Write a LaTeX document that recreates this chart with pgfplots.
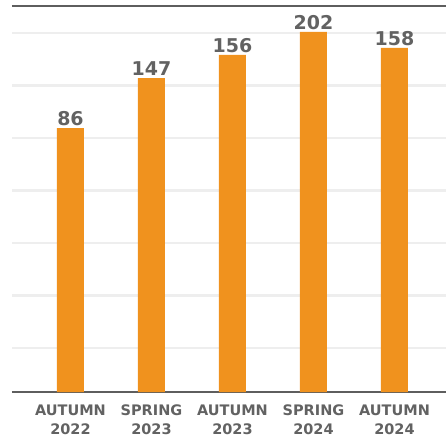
\documentclass[border=0pt]{standalone}
\usepackage{pgfplots}
\pgfplotsset{compat=1.18}
\usepackage{fontspec}
\setmainfont{DejaVu Sans}
\definecolor{barorange}{HTML}{F0921E}
\definecolor{txtgray}{HTML}{626262}
\definecolor{gridgray}{HTML}{EEEEEE}
\definecolor{axgray}{HTML}{5E5E5E}
\begin{document}
\begin{tikzpicture}[x=1pt,y=1pt]
\path[use as bounding box] (-12,-45) rectangle (434,392);
\begin{axis}[
  at={(0,0)}, anchor=south west,
  scale only axis, width=434pt, height=386pt,
  xmin=-0.722, xmax=4.636, ymin=0, ymax=386,
  axis x line*=bottom,
  axis y line*=left,
  y axis line style={draw=none},
  x axis line style={axgray, line width=2pt},
  xtick={0,1,2,3,4},
  xticklabels={AUTUMN\\2022,SPRING\\2023,AUTUMN\\2023,SPRING\\2024,AUTUMN\\2024},
  xticklabel style={align=center, font=\fontsize{14.5}{19}\selectfont\bfseries, text=txtgray, yshift=-9pt},
  major tick length=0pt,
  ytick={44,96.5,149,201.5,254,306.5,359},
  yticklabels={},
  ymajorgrids,
  grid style={gridgray, line width=2.5pt},
  clip=false,
]
\addplot[ybar, bar width=27pt, fill=barorange, draw=none,
  point meta=explicit symbolic,
  nodes near coords,
  nodes near coords style={font=\fontsize{19}{19}\selectfont\bfseries, text=txtgray, anchor=south, yshift=-1pt}]
  table[meta=label] {
x y label
0 264 86
1 314 147
2 337 156
3 360 202
4 344 158
};
\draw[axgray, line width=2pt] (rel axis cs:0,1) -- (rel axis cs:1,1);
\end{axis}
\end{tikzpicture}
\end{document}
